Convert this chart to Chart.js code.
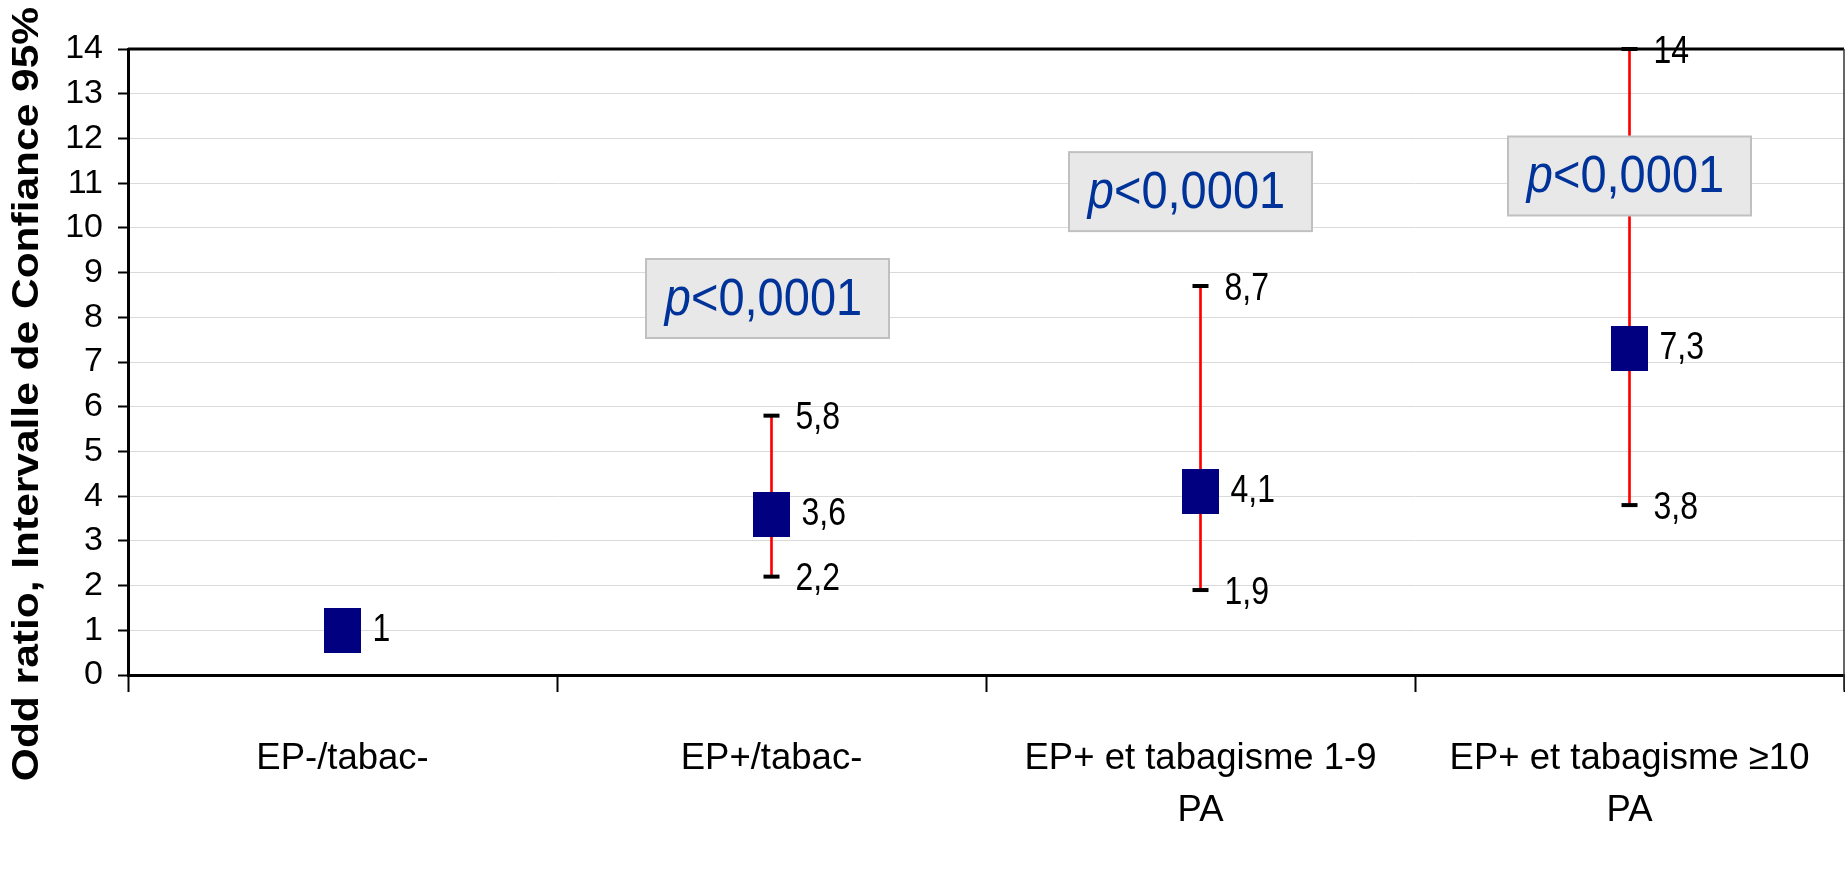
<!DOCTYPE html>
<html>
<head>
<meta charset="utf-8">
<script src="https://cdn.jsdelivr.net/npm/chart.js@4.4.1/dist/chart.umd.min.js"></script>
<style>
  body { margin: 0; background: #fff; overflow: hidden; }
  #wrap { width: 1845px; height: 877px; }
  canvas { display: block; }
</style>
</head>
<body>
<div id="wrap"><canvas id="orChart" width="1845" height="877"></canvas></div>
<script>
// data
const categories = [['EP-/tabac-'], ['EP+/tabac-'], ['EP+ et tabagisme 1-9', 'PA'], ['EP+ et tabagisme ≥10', 'PA']];
const oddRatio = [1, 3.6, 4.1, 7.3];
const ciLow = [null, 2.2, 1.9, 3.8];
const ciHigh = [null, 5.8, 8.7, 14];
const pValues = [null, 'p<0,0001', 'p<0,0001', 'p<0,0001'];
const yTickValues = [0, 1, 2, 3, 4, 5, 6, 7, 8, 9, 10, 11, 12, 13, 14];
const yTitle = 'Odd ratio, Intervalle de Confiance 95%';

// where the p-value boxes sit (y in axis units, x shift in px)
const pBoxY = [null, 8.42, 10.81, 11.16];
const pBoxShift = [0, -4, -10, 0];

Chart.defaults.font.family = "'Liberation Sans', Arial, sans-serif";
Chart.defaults.color = '#000';

function fmt(v) {
    return String(v).replace('.', ',');
}

// text in the original is a little taller than wide
function tallText(ctx, text, x, y, sy) {
    ctx.save();
    ctx.translate(x, y);
    ctx.scale(1, sy);
    ctx.fillText(text, 0, 0);
    ctx.restore();
}

const markerImg = document.createElement('canvas');
markerImg.width = 37;
markerImg.height = 45;
const mctx = markerImg.getContext('2d');
mctx.fillStyle = '#000080';
mctx.fillRect(0, 0, 37, 45);

const framePlugin = {
    id: 'frame',
    beforeDatasetsDraw(chart) {
        const { ctx, chartArea } = chart;
        ctx.save();
        ctx.strokeStyle = '#000';
        ctx.lineWidth = 3;
        ctx.beginPath();
        ctx.moveTo(chartArea.left, chartArea.top);
        ctx.lineTo(chartArea.right, chartArea.top);
        ctx.stroke();
        ctx.strokeStyle = '#333';
        ctx.lineWidth = 1.5;
        ctx.beginPath();
        ctx.moveTo(chartArea.right, chartArea.top);
        ctx.lineTo(chartArea.right, chartArea.bottom + 15);
        ctx.stroke();
        ctx.restore();
    }
};

const labelPlugin = {
    id: 'labels',
    afterDatasetsDraw(chart) {
        const { ctx } = chart;
        const xs = chart.scales.x;
        const ys = chart.scales.y;
        ctx.save();
        ctx.fillStyle = '#000';
        ctx.font = "32px 'Liberation Sans', Arial, sans-serif";
        ctx.textAlign = 'left';
        ctx.textBaseline = 'middle';
        for (let i = 0; i < categories.length; ++i) {
            const x = xs.getPixelForValue(i);
            tallText(ctx, fmt(oddRatio[i]), x + 30, ys.getPixelForValue(oddRatio[i]), 1.2);
            if (ciLow[i] != null) {
                tallText(ctx, fmt(ciLow[i]), x + 24, ys.getPixelForValue(ciLow[i]) + 3, 1.2);
                tallText(ctx, fmt(ciHigh[i]), x + 24, ys.getPixelForValue(ciHigh[i]) + 3, 1.2);
            }
        }
        // p-value boxes
        for (let i = 0; i < categories.length; ++i) {
            if (!pValues[i]) continue;
            const cx = xs.getPixelForValue(i) + pBoxShift[i];
            const cy = ys.getPixelForValue(pBoxY[i]);
            const w = 243, h = 79;
            ctx.fillStyle = '#e8e8e8';
            ctx.fillRect(cx - w / 2, cy - h / 2, w, h);
            ctx.strokeStyle = '#c0c0c0';
            ctx.lineWidth = 2;
            ctx.strokeRect(cx - w / 2, cy - h / 2, w, h);
            const first = pValues[i].slice(0, 1);
            const rest = pValues[i].slice(1);
            const italic = "italic 47px 'Liberation Sans', Arial, sans-serif";
            const normal = "47px 'Liberation Sans', Arial, sans-serif";
            ctx.font = italic;
            const w1 = ctx.measureText(first).width;
            ctx.font = normal;
            const w2 = ctx.measureText(rest).width;
            const left = cx - (w1 + w2) / 2 - 4;
            ctx.fillStyle = '#003399';
            ctx.textAlign = 'left';
            ctx.textBaseline = 'middle';
            ctx.font = italic;
            tallText(ctx, first, left, cy + 2, 1.1);
            ctx.font = normal;
            tallText(ctx, rest, left + w1, cy + 2, 1.1);
        }
        ctx.restore();
    },
    afterDraw(chart) {
        const { ctx } = chart;
        ctx.save();
        ctx.translate(28, 394);
        ctx.rotate(-Math.PI / 2);
        ctx.scale(1.18, 1);
        ctx.font = "bold 36px 'Liberation Sans', Arial, sans-serif";
        ctx.fillStyle = '#000';
        ctx.textAlign = 'center';
        ctx.textBaseline = 'middle';
        ctx.fillText(yTitle, 0, 0);
        ctx.restore();
    }
};

function renderChart() {
    const chartID = document.getElementById('orChart').getContext('2d');
    const chart = new Chart(chartID, {
        data: {
            labels: categories,
            datasets: [{
                type: 'line',
                label: 'Odd ratio',
                data: oddRatio,
                showLine: false,
                pointStyle: markerImg,
                order: 0,
                clip: false
            }, {
                type: 'line',
                label: 'IC haut',
                data: ciHigh,
                showLine: false,
                pointStyle: 'line',
                pointRadius: 8,
                pointBorderWidth: 4,
                pointBorderColor: '#000',
                order: 1,
                clip: false
            }, {
                type: 'line',
                label: 'IC bas',
                data: ciLow,
                showLine: false,
                pointStyle: 'line',
                pointRadius: 8,
                pointBorderWidth: 4,
                pointBorderColor: '#000',
                order: 1,
                clip: false
            }, {
                type: 'bar',
                label: 'IC 95%',
                data: categories.map((c, i) => ciLow[i] == null ? null : [ciLow[i], ciHigh[i]]),
                backgroundColor: '#ff0000',
                barThickness: 2,
                order: 3
            }]
        },
        options: {
            responsive: false,
            animation: false,
            devicePixelRatio: 1,
            layout: { autoPadding: false, padding: { top: 49, right: 1, left: 0, bottom: 0 } },
            plugins: {
                legend: { display: false },
                tooltip: { enabled: false }
            },
            scales: {
                x: {
                    type: 'category',
                    offset: true,
                    afterFit(scale) {
                        scale.height = 202;
                        scale.paddingLeft = 0;
                        scale.paddingRight = 0;
                    },
                    grid: {
                        offset: true,
                        drawOnChartArea: false,
                        drawTicks: true,
                        tickLength: 17,
                        tickColor: '#000',
                        tickWidth: 2
                    },
                    border: { display: true, color: '#000', width: 3 },
                    ticks: {
                        color: '#000',
                        padding: 40,
                        maxRotation: 0,
                        autoSkip: false,
                        font: { size: 36.5, lineHeight: 1.45 }
                    }
                },
                y: {
                    min: 0,
                    max: 14,
                    afterFit(scale) {
                        scale.width = 128;
                        scale.paddingTop = 0;
                        scale.paddingBottom = 0;
                    },
                    afterBuildTicks(scale) {
                        scale.ticks = yTickValues.map(v => ({ value: v }));
                    },
                    grid: {
                        color: '#dadada',
                        lineWidth: 1,
                        tickLength: 10,
                        tickColor: '#000',
                        tickWidth: 2
                    },
                    border: { display: true, color: '#000', width: 3 },
                    ticks: {
                        color: '#000',
                        padding: 15,
                        font: { size: 34 }
                    }
                }
            }
        },
        plugins: [framePlugin, labelPlugin]
    });
}

window.addEventListener('load', function () {
    renderChart();
});
</script>
</body>
</html>
